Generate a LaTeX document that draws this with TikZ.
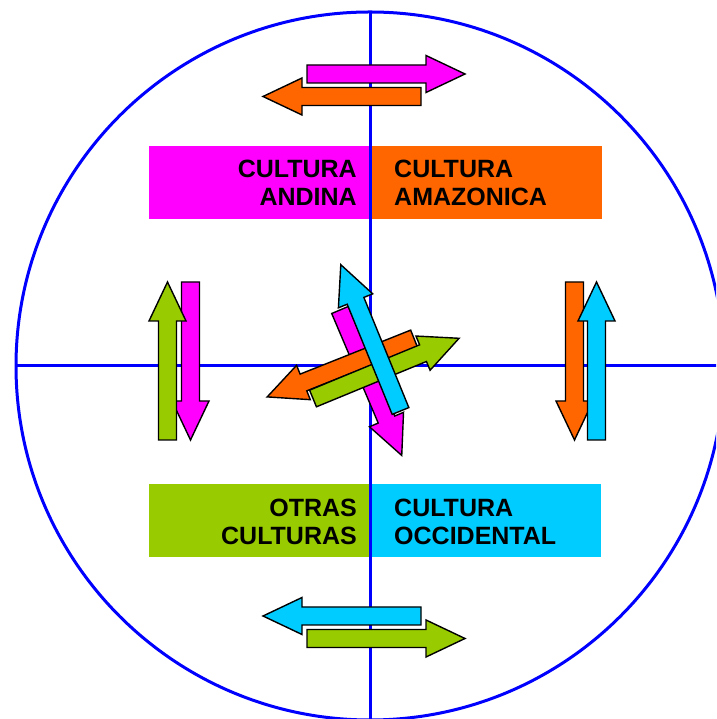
\documentclass[tikz,border=0pt]{standalone}
\usepackage{fontspec}
\setmainfont{Liberation Sans}
\definecolor{cmag}{HTML}{FF00FF}
\definecolor{corg}{HTML}{FF6600}
\definecolor{cgrn}{HTML}{99CC00}
\definecolor{ccyn}{HTML}{00CCFF}
\definecolor{cblu}{HTML}{0000FF}
\tikzset{
  axis/.style={draw=cblu, line width=3pt},
  box/.style={rectangle, inner sep=0pt, minimum height=73pt},
  lbl/.style={font=\fontsize{25}{28}\selectfont\bfseries, inner sep=0pt, text=black},
  pics/barrow/.style={code={
    \draw[fill=#1, draw=black, line width=1.4pt, line join=miter]
      (0,-9) -- (119,-9) -- (119,-18.5) -- (158,0) -- (119,18.5) -- (119,9) -- (0,9) -- cycle;
  }}
}
\begin{document}
\begin{tikzpicture}[x=1pt,y=1pt]
\useasboundingbox (0,0) rectangle (716,719);
\clip (0,0) rectangle (716,719);
% boxes
\node[box, fill=cmag, minimum width=220pt, anchor=south west] (andina) at (149,500) {};
\node[box, fill=corg, minimum width=233pt, anchor=south west] (amazon) at (369,500) {};
\node[box, fill=cgrn, minimum width=220pt, anchor=south west] (otras) at (149,162) {};
\node[box, fill=ccyn, minimum width=232pt, anchor=south west] (occid) at (369,162) {};
% circle and axes
\draw[axis] (370,353) circle[radius=354pt];
\coordinate (vtop) at (370,707);
\coordinate (vbot) at (370,-2);
\coordinate (hl) at (16,353);
\coordinate (hr) at (718,353);
\draw[axis] (vtop) -- (vbot);
\draw[axis] (hl) -- (hr);
% labels
\node[lbl, anchor=base east] (t1) at (357,541) {CULTURA};
\node[lbl, anchor=base east] (t2) at (357,513) {ANDINA};
\node[lbl, anchor=base west] (t3) at (394,541) {CULTURA};
\node[lbl, anchor=base west] (t4) at (394,513) {AMAZONICA};
\node[lbl, anchor=base east] (t5) at (357,202) {OTRAS};
\node[lbl, anchor=base east] (t6) at (357,174) {CULTURAS};
\node[lbl, anchor=base west] (t7) at (394,202) {CULTURA};
\node[lbl, anchor=base west] (t8) at (394,174) {OCCIDENTAL};
% top arrows
\pic at (307,645) {barrow=cmag};
\pic[rotate=180] at (421,622.5) {barrow=corg};
% bottom arrows
\pic[rotate=180] at (421,103) {barrow=ccyn};
\pic at (307,80.5) {barrow=cgrn};
% left arrows
\pic[rotate=-90] at (190.5,437) {barrow=cmag};
\pic[rotate=90] at (167.5,279) {barrow=cgrn};
% right arrows
\pic[rotate=-90] at (574.5,437) {barrow=corg};
\pic[rotate=90] at (596.5,279) {barrow=ccyn};
% centre arrows
\pic[rotate=-67] at (340,409) {barrow=cmag};
\pic[rotate=201.7] at (414,380.5) {barrow=corg};
\pic[rotate=22.4] at (313,320.5) {barrow=cgrn};
\pic[rotate=112.2] at (400.5,308) {barrow=ccyn};
\end{tikzpicture}
\end{document}
